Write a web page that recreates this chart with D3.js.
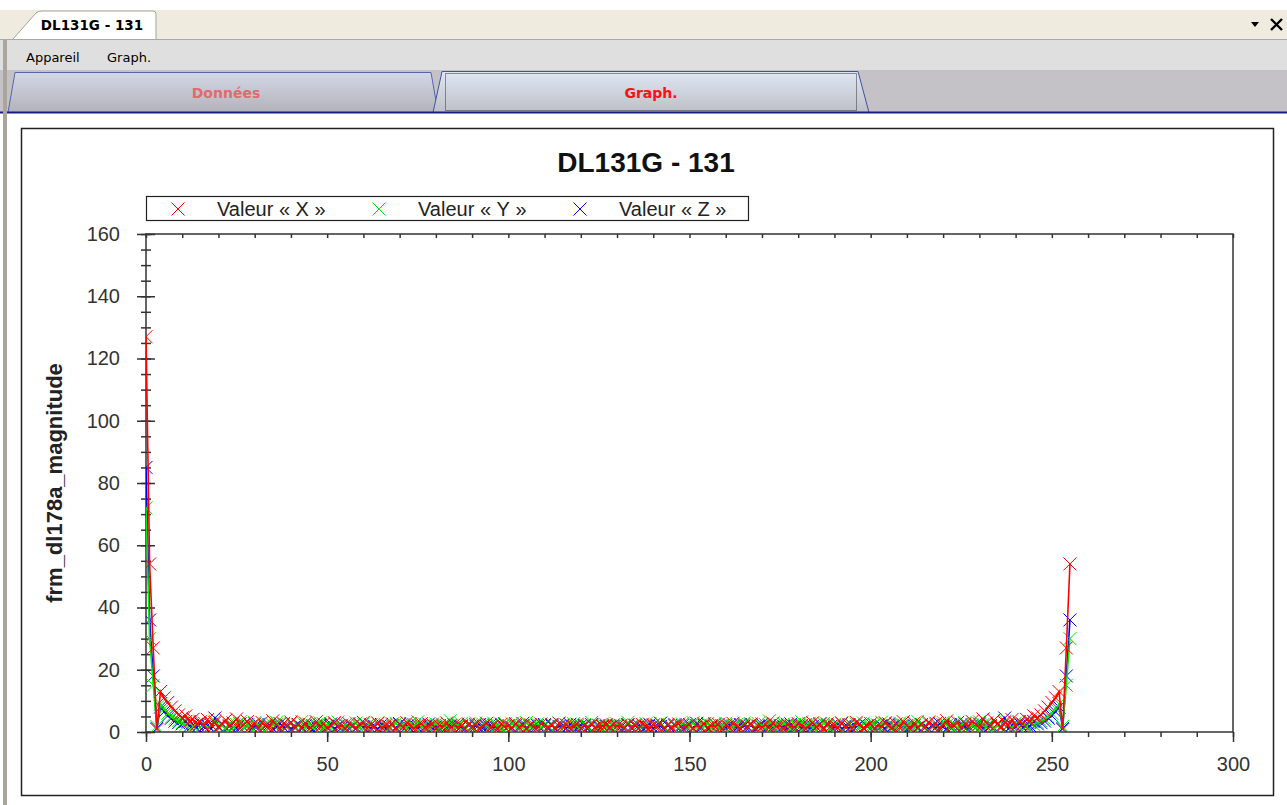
<!DOCTYPE html>
<html>
<head>
<meta charset="utf-8">
<script src="https://cdn.jsdelivr.net/npm/d3@7"></script>
<style>
  body { margin: 0; background: #fff; overflow: hidden; }
  svg { display: block; }
</style>
</head>
<body>
<svg id="chart" width="1287" height="805"></svg>
<script>
"use strict";

// magnitude values, one per bin 0..255 (16 per row)
var magX = [
  127, 54, 27, 0.8, 13, 11, 9.5, 8, 6.8, 5.5, 4.6, 5.2, 3.4, 4.1, 2.5, 3.3,
  1.9, 4.0, 2.2, 3.0, 1.4, 2.7, 3.8, 1.7, 2.9, 4.2, 1.2, 2.5, 3.4, 1.9, 2.6, 1.1,
  3.1, 2.0, 1.5, 3.6, 2.3, 1.0, 2.8, 1.8, 3.2, 1.3, 2.4, 1.6, 2.9, 0.9, 2.1, 3.3,
  1.5, 2.6, 1.2, 2.0, 3.0, 1.7, 2.2, 1.0, 2.7, 1.9, 1.4, 2.5, 3.1, 1.1, 2.3, 1.6,
  2.8, 1.3, 2.0, 1.8, 2.6, 0.8, 2.4, 1.5, 3.0, 1.9, 1.2, 2.2, 2.7, 1.4, 1.9, 2.5,
  1.0, 2.1, 1.7, 2.9, 1.3, 2.3, 1.6, 2.0, 1.1, 2.6, 1.8, 2.4, 1.2, 1.9, 2.8, 1.5,
  2.2, 0.9, 2.5, 1.7, 2.0, 1.4, 2.7, 1.6, 2.1, 1.1, 2.4, 1.8, 1.3, 2.6, 2.0, 1.5,
  2.3, 1.0, 2.8, 1.7, 2.2, 1.4, 1.9, 2.5, 1.2, 2.1, 1.6, 2.4, 1.3, 2.0, 1.8, 2.3,
  1.5, 2.3, 1.8, 2.0, 1.3, 2.4, 1.6, 2.1, 1.2, 2.5, 1.9, 1.4, 2.2, 1.7, 2.8, 1.0,
  2.3, 1.5, 2.0, 2.6, 1.3, 1.8, 2.4, 1.1, 2.1, 1.6, 2.7, 1.4, 2.0, 1.7, 2.5, 0.9,
  2.2, 1.5, 2.8, 1.9, 1.2, 2.4, 1.8, 2.6, 1.1, 2.0, 1.6, 2.3, 1.3, 2.9, 1.7, 2.1,
  1.0, 2.5, 1.9, 1.4, 2.7, 2.2, 1.2, 1.9, 3.0, 1.5, 2.4, 0.8, 2.6, 1.8, 2.0, 1.3,
  2.8, 1.6, 2.3, 1.1, 3.1, 2.5, 1.4, 1.9, 2.7, 1.0, 2.2, 1.7, 3.0, 2.0, 1.2, 2.6,
  1.5, 3.3, 2.1, 0.9, 2.9, 1.6, 2.4, 1.3, 3.2, 1.8, 2.8, 1.0, 2.3, 3.6, 1.5, 2.0,
  3.1, 1.1, 2.6, 1.9, 3.4, 2.5, 1.2, 4.2, 2.9, 1.7, 3.8, 2.7, 1.4, 3.0, 2.2, 4.0,
  1.9, 3.3, 2.5, 4.1, 3.4, 5.2, 4.6, 5.5, 6.8, 8, 9.5, 11, 13, 0.8, 27, 54
];

var magY = [
  72, 30, 15, 1.8, 9, 7.5, 6, 4.8, 4.2, 3.6, 3.0, 2.4, 3.2, 1.8, 2.6, 1.5,
  2.9, 1.2, 2.3, 3.5, 1.6, 2.0, 1.1, 2.7, 1.9, 2.4, 3.3, 1.4, 2.1, 1.7, 3.0, 2.2,
  1.3, 2.6, 1.8, 2.2, 3.1, 1.0, 2.4, 1.9, 2.8, 1.5, 2.0, 3.4, 1.2, 2.5, 1.7, 2.3,
  2.9, 1.4, 2.1, 1.6, 2.7, 3.2, 1.1, 2.4, 1.8, 2.0, 2.9, 1.3, 2.6, 1.9, 2.2, 1.5,
  3.0, 1.8, 2.5, 1.2, 2.1, 2.8, 1.6, 2.3, 1.4, 2.7, 1.9, 3.3, 1.7, 2.4, 1.1, 2.0,
  2.6, 1.5, 2.2, 1.9, 3.6, 1.3, 2.0, 2.7, 1.6, 2.3, 1.8, 2.9, 1.2, 2.5, 2.0, 1.4,
  2.8, 2.1, 1.6, 2.4, 1.3, 2.7, 1.9, 2.2, 1.5, 3.0, 1.7, 2.3, 2.6, 1.4, 2.1, 1.8,
  2.5, 1.2, 2.9, 1.9, 2.3, 1.6, 2.7, 2.0, 1.4, 2.4, 1.8, 3.1, 1.5, 2.2, 2.6, 1.7,
  2.0, 1.7, 2.6, 2.2, 1.5, 3.1, 1.8, 2.4, 1.4, 2.0, 2.7, 1.6, 2.3, 1.9, 2.9, 1.2,
  2.5, 1.8, 2.1, 1.4, 2.6, 2.3, 1.7, 3.0, 1.5, 2.2, 1.9, 2.7, 1.3, 2.4, 1.6, 2.1,
  2.8, 1.4, 2.0, 2.5, 1.2, 2.9, 1.8, 2.3, 1.6, 2.7, 2.0, 1.3, 3.6, 1.9, 2.2, 1.5,
  2.6, 2.0, 1.1, 2.4, 1.7, 3.3, 1.9, 2.7, 1.4, 2.3, 1.6, 2.8, 2.1, 1.2, 2.5, 1.8,
  3.0, 1.5, 2.2, 1.9, 2.6, 1.3, 2.9, 2.0, 1.8, 2.4, 1.1, 3.2, 2.7, 1.6, 2.1, 1.4,
  2.9, 2.3, 1.7, 2.5, 1.2, 3.4, 2.0, 1.5, 2.8, 1.9, 2.4, 1.0, 3.1, 2.2, 1.8, 2.6,
  1.3, 2.2, 3.0, 1.7, 2.1, 1.4, 3.3, 2.4, 1.9, 2.7, 1.1, 2.0, 1.6, 3.5, 2.3, 1.2,
  2.9, 1.5, 2.6, 1.8, 3.2, 2.4, 3.0, 3.6, 4.2, 4.8, 6, 7.5, 9, 1.8, 15, 30
];

var magZ = [
  85, 36, 18, 1.2, 8, 6.5, 5.2, 4.4, 3.5, 3.0, 2.6, 3.4, 1.9, 2.3, 1.4, 2.8,
  1.6, 2.1, 1.0, 4.5, 1.8, 2.4, 1.3, 2.0, 1.7, 1.1, 2.6, 1.5, 2.2, 0.9, 1.8, 2.5,
  1.2, 1.9, 2.3, 1.0, 1.6, 2.7, 1.4, 2.0, 1.1, 1.8, 2.4, 1.3, 2.1, 1.6, 0.8, 1.9,
  2.2, 1.4, 1.7, 2.6, 1.0, 2.0, 1.5, 2.3, 1.2, 1.8, 1.1, 2.5, 1.6, 2.0, 1.3, 1.9,
  1.0, 2.4, 1.5, 1.8, 2.1, 1.2, 2.7, 1.6, 1.9, 1.1, 2.3, 1.4, 2.0, 1.7, 2.6, 1.3,
  1.8, 1.1, 2.2, 1.5, 2.0, 1.3, 2.5, 1.7, 1.0, 2.1, 1.6, 1.9, 2.4, 1.2, 1.8, 2.3,
  1.4, 2.0, 1.1, 2.6, 1.7, 1.3, 2.2, 1.5, 2.8, 1.2, 1.9, 1.6, 2.1, 1.0, 2.4, 1.7,
  2.0, 1.3, 1.8, 2.2, 1.1, 2.5, 1.6, 1.4, 2.1, 1.9, 1.2, 2.3, 1.7, 1.5, 2.0, 1.8,
  1.6, 1.8, 2.0, 1.5, 1.7, 2.3, 1.2, 1.9, 2.1, 1.4, 1.6, 2.5, 1.1, 2.2, 1.8, 1.3,
  2.0, 1.7, 2.4, 1.0, 2.1, 1.6, 1.9, 1.2, 2.8, 1.5, 2.2, 1.3, 1.7, 2.6, 1.1, 2.0,
  1.4, 2.3, 1.8, 1.2, 2.4, 1.9, 1.6, 2.1, 1.0, 1.7, 2.5, 1.3, 2.0, 1.5, 2.2, 1.1,
  1.8, 1.3, 2.6, 1.7, 2.0, 1.4, 2.3, 1.1, 1.9, 1.6, 2.7, 1.2, 2.1, 1.8, 1.5, 2.4,
  1.0, 1.9, 1.3, 2.0, 1.6, 2.5, 1.1, 1.8, 1.2, 2.3, 1.5, 2.0, 1.0, 2.6, 1.7, 1.4,
  2.2, 1.9, 0.8, 1.6, 2.1, 1.3, 2.4, 1.8, 1.1, 2.0, 1.4, 2.7, 1.6, 1.0, 2.3, 1.9,
  1.2, 2.5, 1.8, 0.9, 2.2, 1.5, 2.6, 1.1, 1.7, 2.0, 1.3, 2.4, 1.8, 4.5, 1.0, 2.1,
  1.6, 2.8, 1.4, 2.3, 1.9, 3.4, 2.6, 3.0, 3.5, 4.4, 5.2, 6.5, 8, 1.2, 18, 36
];

var legendLabels = ["Valeur\u00a0«\u00a0X\u00a0»", "Valeur\u00a0«\u00a0Y\u00a0»", "Valeur\u00a0«\u00a0Z\u00a0»"];
var xTicks = [0, 50, 100, 150, 200, 250, 300];
var yTicks = [0, 20, 40, 60, 80, 100, 120, 140, 160];

var chartTitle = "DL131G - 131";
var yTitle = "frm_dl178a_magnitude";

var seriesColors = ["#ff0000", "#00ee00", "#0000ff"];
var font = "'Liberation Sans', Arial, sans-serif";
var uiFont = "'DejaVu Sans', Verdana, sans-serif";

var svg = d3.select("#chart");
var defs = svg.append("defs");

function grad(id, top, bottom) {
  var g = defs.append("linearGradient").attr("id", id)
    .attr("x1", 0).attr("y1", 0).attr("x2", 0).attr("y2", 1);
  g.append("stop").attr("offset", "0%").attr("stop-color", top);
  g.append("stop").attr("offset", "100%").attr("stop-color", bottom);
}
grad("tabOff", "#d3d8e6", "#b2b2ba");
grad("tabOn", "#dfe7f3", "#bebfc7");

// ---- window chrome ----
svg.append("rect").attr("x", 0).attr("y", 10).attr("width", 1287).attr("height", 30).attr("fill", "#efebdf");
svg.append("path")
  .attr("d", "M13,39 L36,13 Q38,11 42,11 L153,11 Q156,11 156,14 L156,39")
  .attr("fill", "#fff").attr("stroke", "#a5a39a");
svg.append("text").attr("x", 92).attr("y", 30).attr("text-anchor", "middle")
  .attr("font-family", uiFont).attr("font-weight", "bold").attr("font-size", "13.5px")
  .text("DL131G - 131");
svg.append("line").attr("x1", 0).attr("x2", 1287).attr("y1", 39.5).attr("y2", 39.5).attr("stroke", "#a8a8a8");

// dropdown arrow + close cross
svg.append("path").attr("d", "M1251,22 L1259,22 L1255,27 Z").attr("fill", "#000");
svg.append("path").attr("d", "M1271,19 L1282,30 M1282,19 L1271,30")
  .attr("stroke", "#000").attr("stroke-width", 2.4);

// menu bar
svg.append("rect").attr("x", 0).attr("y", 40).attr("width", 1287).attr("height", 30).attr("fill", "#dfdfdf");
svg.append("text").attr("x", 26).attr("y", 62).attr("font-family", uiFont).attr("font-size", "13px").text("Appareil");
svg.append("text").attr("x", 107).attr("y", 62).attr("font-family", uiFont).attr("font-size", "13px").text("Graph.");

// tab strip
svg.append("rect").attr("x", 0).attr("y", 70).attr("width", 1287).attr("height", 43).attr("fill", "#c4c2c6");
svg.append("path").attr("d", "M8,112.5 L15,72.5 L431,72.5 L438,112.5")
  .attr("fill", "url(#tabOff)").attr("stroke", "#5565b0");
svg.append("text").attr("x", 226).attr("y", 98).attr("text-anchor", "middle")
  .attr("font-family", uiFont).attr("font-weight", "bold").attr("font-size", "14px")
  .attr("fill", "#e26a6a").text("Données");
svg.append("path").attr("d", "M433,112.5 L442,71.5 L858,71.5 L869,112.5")
  .attr("fill", "url(#tabOn)").attr("stroke", "#44529f");
svg.append("rect").attr("x", 445.5).attr("y", 73.5).attr("width", 411).attr("height", 37)
  .attr("fill", "none").attr("stroke", "#333").attr("stroke-dasharray", "1,1");
svg.append("text").attr("x", 651).attr("y", 98).attr("text-anchor", "middle")
  .attr("font-family", uiFont).attr("font-weight", "bold").attr("font-size", "14px")
  .attr("fill", "#ff1010").text("Graph.");
svg.append("line").attr("x1", 0).attr("x2", 1287).attr("y1", 112.5).attr("y2", 112.5)
  .attr("stroke", "#1b1b84").attr("stroke-width", 2);

// left window edge
svg.append("rect").attr("x", 3).attr("y", 40).attr("width", 4).attr("height", 765).attr("fill", "#aaa69a");

// ---- chart frame ----
svg.append("rect").attr("x", 21.5).attr("y", 128.5).attr("width", 1252).attr("height", 667)
  .attr("fill", "#fff").attr("stroke", "#222").attr("stroke-width", 1.5);

svg.append("text").attr("x", 646).attr("y", 172).attr("text-anchor", "middle")
  .attr("font-family", font).attr("font-weight", "bold").attr("font-size", "28px")
  .attr("fill", "#111").text(chartTitle);

var x = d3.scaleLinear().domain([0, 300]).range([146, 1233]);
var y = d3.scaleLinear().domain([0, 160]).range([732, 234]);

var xMinor = d3.range(0, 301, 10);
var yMinor = d3.range(0, 161, 5);

function styleAxis(g) {
  g.select(".domain").remove();
  g.selectAll(".tick line").attr("stroke", "#333").attr("stroke-width", 1.5);
  g.selectAll(".tick text").attr("fill", "#333").attr("font-family", font).attr("font-size", "20px");
}

// plot box lines
svg.append("path")
  .attr("d", "M146,732 L146,234 L1233,234 L1233,732 L146,732")
  .attr("fill", "none").attr("stroke", "#333").attr("stroke-width", 1.5);

// y axis: ticks cross the axis line
svg.append("g").attr("transform", "translate(146,0)")
  .call(d3.axisLeft(y).tickValues(yMinor).tickSize(5).tickSizeOuter(0).tickFormat(""))
  .call(styleAxis);
svg.append("g").attr("transform", "translate(146,0)")
  .call(d3.axisRight(y).tickValues(yMinor).tickSize(5).tickSizeOuter(0).tickFormat(""))
  .call(styleAxis);
svg.append("g").attr("transform", "translate(146,0)")
  .call(d3.axisLeft(y).tickValues(yTicks).tickSize(9).tickSizeOuter(0).tickPadding(17))
  .call(styleAxis);
svg.append("g").attr("transform", "translate(146,0)")
  .call(d3.axisRight(y).tickValues(yTicks).tickSize(9).tickSizeOuter(0).tickFormat(""))
  .call(styleAxis);

// x axis
svg.append("g").attr("transform", "translate(0,732)")
  .call(d3.axisBottom(x).tickValues(xMinor).tickSize(5).tickSizeOuter(0).tickFormat(""))
  .call(styleAxis);
svg.append("g").attr("transform", "translate(0,732)")
  .call(d3.axisBottom(x).tickValues(xTicks).tickSize(10).tickSizeOuter(0).tickPadding(15))
  .call(styleAxis);
// top edge small inner ticks
svg.append("g").attr("transform", "translate(0,234)")
  .call(d3.axisBottom(x).tickValues(xMinor).tickSize(4).tickSizeOuter(0).tickFormat(""))
  .call(styleAxis);

// y title
svg.append("text").attr("transform", "translate(62,483) rotate(-90)")
  .attr("text-anchor", "middle").attr("font-family", font).attr("font-weight", "bold")
  .attr("font-size", "22px").attr("fill", "#222").text(yTitle);

// ---- series ----
defs.append("clipPath").attr("id", "plotClip")
  .append("rect").attr("x", 146).attr("y", 234).attr("width", 1087).attr("height", 498);

var series = [
  { name: legendLabels[0], values: magX, color: seriesColors[0] },
  { name: legendLabels[1], values: magY, color: seriesColors[1] },
  { name: legendLabels[2], values: magZ, color: seriesColors[2] }
];

var cross = "M-6.5,-6.5L6.5,6.5M-6.5,6.5L6.5,-6.5";
var line = d3.line().x(function(d, i) { return x(i); }).y(function(d) { return y(d); });

var plot = svg.append("g").attr("clip-path", "url(#plotClip)");
// z first, x last so red sits on top
series.slice().reverse().forEach(function(s) {
  var g = plot.append("g");
  g.append("path").attr("d", line(s.values))
    .attr("fill", "none").attr("stroke", s.color).attr("stroke-width", 1.6);
  g.selectAll("path.mk").data(s.values).enter().append("path")
    .attr("class", "mk")
    .attr("d", cross)
    .attr("transform", function(d, i) { return "translate(" + x(i) + "," + y(d) + ")"; })
    .attr("fill", "none").attr("stroke", s.color).attr("stroke-width", 1);
});

// ---- legend ----
var legend = svg.append("g");
legend.append("rect").attr("x", 146.5).attr("y", 196.5).attr("width", 602).attr("height", 24)
  .attr("fill", "#fff").attr("stroke", "#222").attr("stroke-width", 1.2);
var legendX = [178, 379, 580];
series.forEach(function(s, i) {
  legend.append("path").attr("d", cross)
    .attr("transform", "translate(" + legendX[i] + ",209)")
    .attr("fill", "none").attr("stroke", s.color).attr("stroke-width", 1);
  legend.append("text").attr("x", legendX[i] + 39).attr("y", 215.5)
    .attr("font-family", font).attr("font-size", "20px").attr("fill", "#222")
    .text(s.name);
});
</script>
</body>
</html>
